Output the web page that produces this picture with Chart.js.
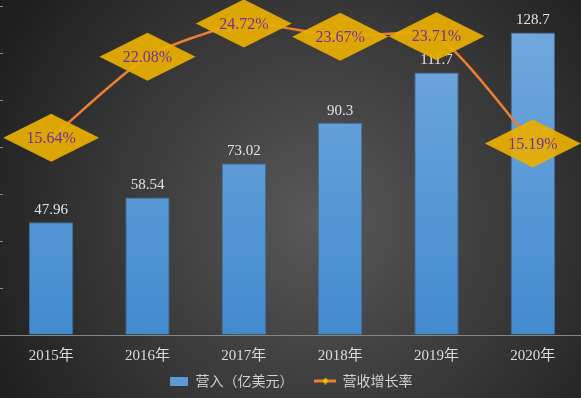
<!DOCTYPE html>
<html>
<head>
<meta charset="utf-8">
<script src="https://cdn.jsdelivr.net/npm/chart.js@4.4.0/dist/chart.umd.min.js"></script>
<style>
html, body { margin: 0; padding: 0; background: #2a2a2a; }
#wrap { width: 581px; height: 398px; }
</style>
</head>
<body>
<div id="wrap"><canvas id="chart"></canvas></div>
<script>
const years = ['2015年', '2016年', '2017年', '2018年', '2019年', '2020年']
const revenue = [47.96, 58.54, 73.02, 90.3, 111.7, 128.7]
const growth = [15.64, 22.08, 24.72, 23.67, 23.71, 15.19]

function icon(w, h, draw) {
	let c = document.createElement('canvas')
	c.width = w
	c.height = h
	draw(c.getContext('2d'))
	return c
}

let barIcon = icon(18, 9, function (g) {
	g.fillStyle = '#5b9bd5'
	g.fillRect(0, 0, 18, 9)
})
let lineIcon = icon(22, 7, function (g) {
	g.fillStyle = '#ed7d31'
	g.fillRect(0, 2, 22, 3)
	g.fillStyle = '#f2c200'
	g.beginPath()
	g.moveTo(11, 0); g.lineTo(14, 3.5); g.lineTo(11, 7); g.lineTo(8, 3.5)
	g.fill()
})

let background = {
	id: 'background',
	beforeDraw(chart) {
		let ctx = chart.ctx
		let w = chart.width, h = chart.height
		let grad = ctx.createRadialGradient(w * 0.55, h * 0.55, 10, w * 0.55, h * 0.55, w * 0.62)
		grad.addColorStop(0, '#575757')
		grad.addColorStop(1, '#1f1f1f')
		ctx.save()
		ctx.fillStyle = grad
		ctx.fillRect(0, 0, w, h)
		ctx.restore()
	}
}

// keep the legend short so the plot reaches down like the original
let legendFit = {
	id: 'legendFit',
	beforeInit(chart) {
		let fit = chart.legend.fit
		chart.legend.fit = function () {
			fit.call(this)
			this.height = 21
		}
	},
	afterLayout(chart) {
		chart.legend.top -= 25
	}
}

let labels = {
	id: 'labels',
	afterDatasetsDraw(chart) {
		let ctx = chart.ctx
		ctx.save()
		ctx.textAlign = 'center'
		ctx.textBaseline = 'middle'

		// bar values
		ctx.font = '15px "Liberation Serif", serif'
		ctx.fillStyle = '#e2e2e2'
		chart.getDatasetMeta(0).data.forEach(function (bar, i) {
			ctx.fillText(String(revenue[i]), bar.x, bar.y - 12)
		})

		// growth diamonds
		chart.getDatasetMeta(1).data.forEach(function (pt, i) {
			ctx.globalAlpha = 0.93
			ctx.fillStyle = '#e8ae00'
			ctx.beginPath()
			ctx.moveTo(pt.x, pt.y - 24)
			ctx.lineTo(pt.x + 48, pt.y)
			ctx.lineTo(pt.x, pt.y + 24)
			ctx.lineTo(pt.x - 48, pt.y)
			ctx.closePath()
			ctx.fill()
			ctx.globalAlpha = 1
			ctx.font = '16px "Liberation Serif", serif'
			ctx.fillStyle = '#7030a0'
			ctx.fillText(growth[i].toFixed(2) + '%', pt.x, pt.y + 1)
		})
		ctx.restore()
	}
}

let barGradient = function (context) {
	let area = context.chart.chartArea
	if (!area) return '#5b9bd5'
	let g = context.chart.ctx.createLinearGradient(0, area.top, 0, area.bottom)
	g.addColorStop(0, '#74aade')
	g.addColorStop(1, '#428bcf')
	return g
}

new Chart(document.getElementById('chart'), {
	type: 'bar',
	data: {
		labels: years,
		datasets: [
			{
				label: '营入（亿美元）',
				data: revenue,
				backgroundColor: barGradient,
				borderColor: '#3f6f9e',
				borderWidth: 1,
				categoryPercentage: 1,
				barPercentage: 0.46,
				yAxisID: 'y',
				order: 2
			},
			{
				type: 'line',
				label: '营收增长率',
				data: growth,
				borderColor: '#ed7d31',
				borderWidth: 2.5,
				pointRadius: 0,
				tension: 0.2,
				yAxisID: 'y1',
				order: 1
			}
		]
	},
	plugins: [background, legendFit, labels],
	options: {
		responsive: true,
		maintainAspectRatio: false,
		animation: false,
		layout: {
			padding: { top: 6, left: 0, right: 0, bottom: 0 }
		},
		scales: {
			x: {
				grid: { display: false, drawTicks: false },
				border: { display: true, color: '#858585', width: 1 },
				ticks: {
					color: '#dadada',
					padding: 12,
					font: { family: '"Liberation Serif", "Noto Sans CJK SC", serif', size: 15 }
				}
			},
			y: {
				min: 0,
				max: 140,
				ticks: { display: false, stepSize: 20 },
				border: { display: false },
				grid: { drawOnChartArea: false, tickLength: 3, color: '#8a8a8a' }
			},
			y1: {
				display: false,
				min: 0,
				max: 26.1
			}
		},
		plugins: {
			tooltip: { enabled: false },
			legend: {
				position: 'bottom',
				labels: {
					usePointStyle: true,
					pointStyleWidth: 20,
					padding: 22,
					font: { family: '"Noto Sans CJK SC", sans-serif', size: 14 },
					color: '#cfcfcf',
					generateLabels: function () {
						return [
							{ text: '营入（亿美元）', pointStyle: barIcon, fontColor: '#cfcfcf', lineWidth: 0, strokeStyle: 'transparent', datasetIndex: 0 },
							{ text: '营收增长率', pointStyle: lineIcon, fontColor: '#cfcfcf', lineWidth: 0, strokeStyle: 'transparent', datasetIndex: 1 }
						]
					}
				}
			}
		}
	}
})
</script>
</body>
</html>
